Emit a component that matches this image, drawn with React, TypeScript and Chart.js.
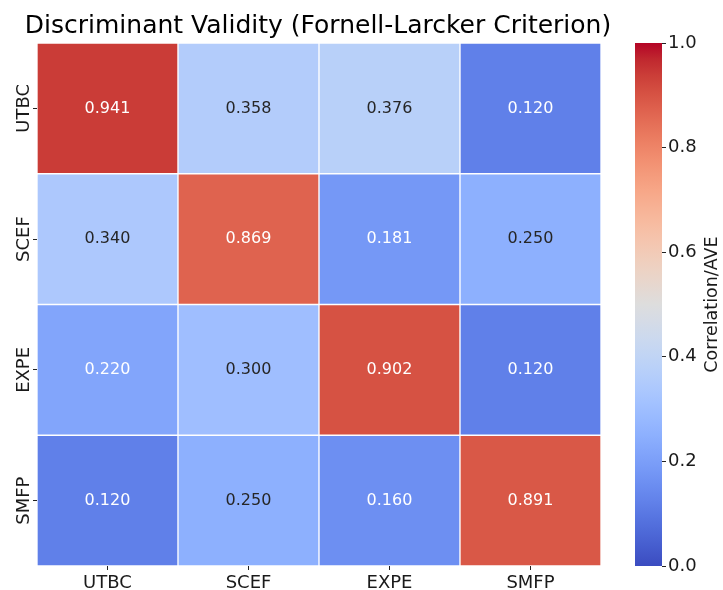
import { useEffect, useRef } from 'react';
import { Chart, registerables } from 'chart.js';

Chart.register(...registerables);

// ---- data ----
const rowLabels = ['UTBC', 'SCEF', 'EXPE', 'SMFP'];
const colLabels = ['UTBC', 'SCEF', 'EXPE', 'SMFP'];
const rowUTBC = [0.941, 0.358, 0.376, 0.12];
const rowSCEF = [0.34, 0.869, 0.181, 0.25];
const rowEXPE = [0.22, 0.3, 0.902, 0.12];
const rowSMFP = [0.12, 0.25, 0.16, 0.891];
const matrix = [rowUTBC, rowSCEF, rowEXPE, rowSMFP];
const colorbarTicks = [0, 0.2, 0.4, 0.6, 0.8, 1.0];
const colorMin = 0;
const colorMax = 1;
const titleText = 'Discriminant Validity (Fornell-Larcker Criterion)';
const colorbarLabel = 'Correlation/AVE';

// ---- coolwarm colormap (Moreland) ----
const COOLWARM: number[][] = [
  [59, 76, 192], [68, 90, 204], [77, 104, 215], [87, 117, 225], [98, 130, 234],
  [108, 142, 241], [119, 154, 247], [130, 165, 251], [141, 176, 254], [152, 185, 255],
  [163, 194, 255], [174, 201, 253], [184, 208, 249], [194, 213, 244], [204, 217, 238],
  [213, 219, 230], [221, 221, 221], [229, 216, 209], [236, 211, 197], [241, 204, 185],
  [245, 196, 173], [247, 187, 160], [247, 177, 148], [247, 166, 135], [244, 154, 123],
  [241, 141, 111], [236, 127, 99], [229, 112, 88], [222, 96, 77], [213, 80, 66],
  [203, 62, 56], [192, 40, 47], [180, 4, 38],
];

function cmapRGB(v: number): number[] {
  const t = Math.min(1, Math.max(0, (v - colorMin) / (colorMax - colorMin)));
  const pos = t * (COOLWARM.length - 1);
  const i = Math.min(COOLWARM.length - 2, Math.floor(pos));
  const f = pos - i;
  const a = COOLWARM[i];
  const b = COOLWARM[i + 1];
  return [0, 1, 2].map((k) => Math.round(a[k] + (b[k] - a[k]) * f));
}
function cmap(v: number): string {
  const c = cmapRGB(v);
  return `rgb(${c[0]},${c[1]},${c[2]})`;
}
function textColorFor(v: number): string {
  const c = cmapRGB(v).map((x) => {
    const s = x / 255;
    return s <= 0.03928 ? s / 12.92 : Math.pow((s + 0.055) / 1.055, 2.4);
  });
  const lum = 0.2126 * c[0] + 0.7152 * c[1] + 0.0722 * c[2];
  return lum > 0.408 ? '#262626' : '#ffffff';
}

const FONT = "'DejaVu Sans', 'Liberation Sans', sans-serif";
const INK = '#1a1a1a';

const heatPlugin = {
  id: 'heatExtras',
  afterDatasetsDraw(chart: any) {
    const ctx = chart.ctx;
    ctx.save();
    ctx.font = `16px ${FONT}`;
    ctx.textAlign = 'center';
    ctx.textBaseline = 'middle';
    chart.data.datasets.forEach((ds: any, di: number) => {
      const meta = chart.getDatasetMeta(di);
      meta.data.forEach((el: any, i: number) => {
        const v = ds.values[i];
        const cy = (el.y + el.base) / 2;
        ctx.fillStyle = textColorFor(v);
        ctx.fillText(v.toFixed(3), el.x, cy);
      });
    });
    ctx.restore();
  },
  afterDraw(chart: any) {
    const ctx = chart.ctx;
    const area = chart.chartArea;
    const yScale = chart.scales.y;
    const cb = chart.scales.cb;
    ctx.save();
    // title
    ctx.fillStyle = '#000';
    ctx.font = `25px ${FONT}`;
    ctx.textAlign = 'center';
    ctx.textBaseline = 'alphabetic';
    ctx.fillText(titleText, (area.left + area.right) / 2 - 1, 33);

    // y tick labels (rotated)
    ctx.font = `18px ${FONT}`;
    ctx.fillStyle = INK;
    yScale.ticks.forEach((t: any, i: number) => {
      const py = yScale.getPixelForValue(t.value);
      ctx.save();
      ctx.translate(28.5, py);
      ctx.rotate(-Math.PI / 2);
      ctx.textAlign = 'center';
      ctx.textBaseline = 'alphabetic';
      ctx.fillText(rowLabels[i], 0, 0);
      ctx.restore();
    });

    // colorbar
    const cbRight = cb.left;
    const cbLeft = cbRight - 27;
    const top = cb.getPixelForValue(colorMax);
    const bottom = cb.getPixelForValue(colorMin);
    const grad = ctx.createLinearGradient(0, bottom, 0, top);
    for (let k = 0; k < COOLWARM.length; k++) {
      const t = k / (COOLWARM.length - 1);
      grad.addColorStop(t, cmap(colorMin + t * (colorMax - colorMin)));
    }
    ctx.fillStyle = grad;
    ctx.fillRect(cbLeft, top, cbRight - cbLeft, bottom - top);

    // colorbar label
    ctx.save();
    ctx.translate(717, (top + bottom) / 2);
    ctx.rotate(-Math.PI / 2);
    ctx.font = `17.5px ${FONT}`;
    ctx.fillStyle = INK;
    ctx.textAlign = 'center';
    ctx.textBaseline = 'alphabetic';
    ctx.fillText(colorbarLabel, 0, 0);
    ctx.restore();

    ctx.restore();
  },
};

export default function App() {
  const ref = useRef<HTMLCanvasElement | null>(null);

  useEffect(() => {
    if (!ref.current) return;
    const datasets = matrix.map((row, r) => ({
      label: rowLabels[r],
      data: row.map(() => [r, r + 1]),
      values: row,
      backgroundColor: row.map((v) => cmap(v)),
      borderColor: '#ffffff',
      borderWidth: 1,
      borderSkipped: false,
      barPercentage: 1,
      categoryPercentage: 1,
    }));

    const tickGrid = {
      display: true,
      drawOnChartArea: false,
      drawTicks: true,
      tickLength: 4,
      color: '#222',
      tickColor: '#222',
      lineWidth: 1,
    };

    const chart = new Chart(ref.current, {
      type: 'bar',
      data: { labels: colLabels, datasets: datasets as any },
      plugins: [heatPlugin],
      options: {
        responsive: false,
        animation: false,
        devicePixelRatio: 1,
        layout: { padding: { top: 43, left: 0, right: 0, bottom: 0 } },
        plugins: {
          legend: { display: false },
          tooltip: { enabled: false },
          title: { display: false },
        },
        scales: {
          x: {
            type: 'category',
            stacked: true,
            offset: true,
            grid: { ...tickGrid, offset: false },
            border: { display: false },
            ticks: {
              font: { family: FONT, size: 18 },
              color: INK,
              padding: 3,
              maxRotation: 0,
              minRotation: 0,
            },
            afterFit: (s: any) => {
              s.height = 24;
            },
          },
          y: {
            type: 'linear',
            min: 0,
            max: rowLabels.length,
            reverse: true,
            stacked: false,
            position: 'left',
            grid: tickGrid,
            border: { display: false },
            ticks: { display: false },
            afterBuildTicks: (s: any) => {
              s.ticks = rowLabels.map((_, i) => ({ value: i + 0.5 }));
            },
            afterFit: (s: any) => {
              s.width = 37;
            },
          },
          spacer: {
            axis: 'y',
            type: 'linear',
            position: 'right',
            weight: 1,
            display: true,
            grid: { display: false },
            border: { display: false },
            ticks: { display: false },
            afterFit: (s: any) => {
              s.width = 61;
            },
          },
          cb: {
            axis: 'y',
            type: 'linear',
            position: 'right',
            weight: 2,
            min: colorMin,
            max: colorMax,
            grid: tickGrid,
            border: { display: false },
            ticks: {
              font: { family: FONT, size: 18 },
              color: INK,
              padding: 2,
              callback: (v: any) => Number(v).toFixed(1),
            },
            afterBuildTicks: (s: any) => {
              s.ticks = colorbarTicks.map((v) => ({ value: v }));
            },
            afterFit: (s: any) => {
              s.width = 61;
            },
          },
        } as any,
      },
    });
    return () => chart.destroy();
  }, []);

  return (
    <div style={{ position: 'fixed', left: 0, top: 0, width: 723, height: 590, background: '#fff' }}>
      <canvas ref={ref} width={723} height={590} style={{ width: 723, height: 590, display: 'block' }} />
    </div>
  );
}
